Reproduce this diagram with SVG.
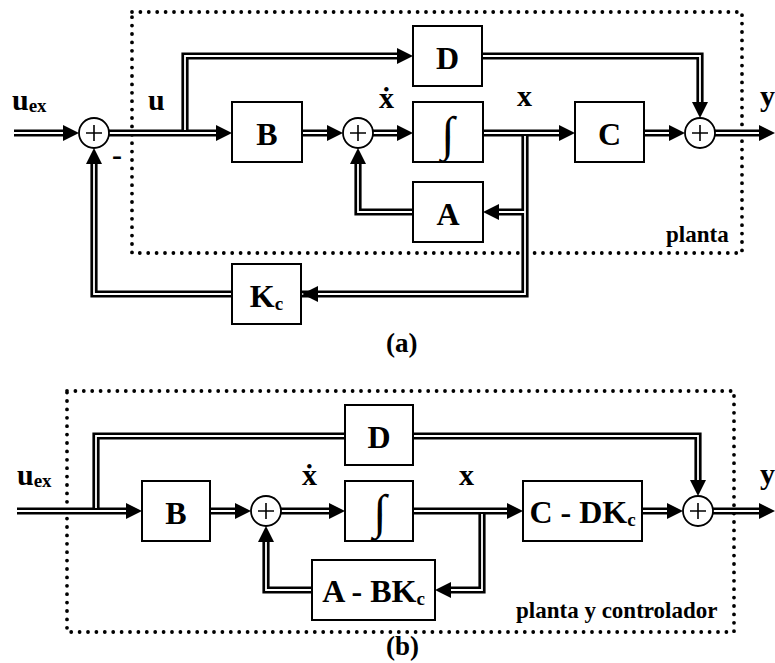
<svg xmlns="http://www.w3.org/2000/svg" xmlns:xlink="http://www.w3.org/1999/xlink" width="775" height="663" viewBox="0 0 775 663">
<style>
  text { font-family: "Liberation Serif", "Times New Roman", serif; font-weight: bold; fill: #000; }
  .lbl { font-size: 30px; }
  .sub { font-size: 19px; }
  .box { fill: #fff; stroke: #000; stroke-width: 2; }
  .bl { font-size: 32px; text-anchor: middle; }
  .sum { fill: #fff; stroke: #000; stroke-width: 1.8; }
  .plus { stroke: #000; stroke-width: 1.6; fill: none; }
  .outer { fill: none; stroke: #000; stroke-width: 7.2; stroke-linejoin: miter; stroke-linecap: butt; }
  .inner { fill: none; stroke: #fff; stroke-width: 1.8; stroke-linejoin: miter; stroke-linecap: butt; }
  .dot { fill: none; stroke: #000; stroke-width: 3.8; stroke-linecap: round; stroke-dasharray: 0 8.4; }
  .small { font-size: 23px; }
  .integ { font-size: 48px; text-anchor: middle; font-weight: bold; }
</style>
<defs>
  <polygon id="ah" points="0,0 -16,-8 -16,8" fill="#000"/>
  <g id="plus"><path class="plus" d="M-8,0 H8 M0,-8 V8"/></g>
</defs>

<!-- boundaries -->
<g id="planta-a">
  <path class="dot" d="M132,12 H742 V253 H132 Z"/>
  <text class="small" x="666" y="242">planta</text>
</g>
<g id="planta-b">
  <path class="dot" d="M67,391 H734 V632 H67 Z"/>
  <text class="small" x="516" y="618">planta y controlador</text>
</g>

<g id="connectors">
  <g id="conn-a">
    <path class="outer" d="M14,133 H64 M109,133 H217 M302,133 H328 M373,133 H398 M483,133 H560 M644,133 H670 M715,133 H760 M185,133 V56 H398 M482,56 H700 V103 M413,212 H358 V164 M525,133 V294 H302 M525,212 H499 M232,294 H94 V164"/>
    <path class="inner" d="M14,133 H64 M109,133 H217 M302,133 H328 M373,133 H398 M483,133 H560 M644,133 H670 M715,133 H760 M185,130 V56 H398 M482,56 H700 V103 M413,212 H358 V164 M525,136 V294 H302 M525,212 H499 M232,294 H94 V164"/>
    <use xlink:href="#ah" transform="translate(79,133)"/>
    <use xlink:href="#ah" transform="translate(232,133)"/>
    <use xlink:href="#ah" transform="translate(343,133)"/>
    <use xlink:href="#ah" transform="translate(413,133)"/>
    <use xlink:href="#ah" transform="translate(575,133)"/>
    <use xlink:href="#ah" transform="translate(685,133)"/>
    <use xlink:href="#ah" transform="translate(775,133)"/>
    <use xlink:href="#ah" transform="translate(413,56)"/>
    <use xlink:href="#ah" transform="translate(700,118) rotate(90)"/>
    <use xlink:href="#ah" transform="translate(94,148) rotate(-90)"/>
    <use xlink:href="#ah" transform="translate(358,148) rotate(-90)"/>
    <use xlink:href="#ah" transform="translate(483,212) rotate(180)"/>
    <use xlink:href="#ah" transform="translate(302,294) rotate(180)"/>
  </g>
  <g id="conn-b">
    <path class="outer" d="M17,511 H127 M96,511 V436 H698 V481 M210,511 H236 M281,511 H330 M413,511 H508 M642,511 H668 M713,511 H760 M482,511 V590 H450 M312,590 H266 V542"/>
    <path class="inner" d="M17,511 H127 M96,508 V436 H698 V481 M210,511 H236 M281,511 H330 M413,511 H508 M642,511 H668 M713,511 H760 M482,514 V590 H450 M312,590 H266 V542"/>
    <use xlink:href="#ah" transform="translate(142,511)"/>
    <use xlink:href="#ah" transform="translate(251,511)"/>
    <use xlink:href="#ah" transform="translate(345,511)"/>
    <use xlink:href="#ah" transform="translate(523,511)"/>
    <use xlink:href="#ah" transform="translate(683,511)"/>
    <use xlink:href="#ah" transform="translate(775,511)"/>
    <use xlink:href="#ah" transform="translate(698,496) rotate(90)"/>
    <use xlink:href="#ah" transform="translate(266,526) rotate(-90)"/>
    <use xlink:href="#ah" transform="translate(435,590) rotate(180)"/>
  </g>
</g>

<!-- diagram (a) nodes -->
<g id="a-sum1"><circle class="sum" cx="94" cy="133" r="15"/><use xlink:href="#plus" transform="translate(94,133)"/></g>
<g id="a-B"><rect class="box" x="232" y="102" width="70" height="60"/><text class="bl" x="267" y="145">B</text></g>
<g id="a-sum2"><circle class="sum" cx="358" cy="133" r="15"/><use xlink:href="#plus" transform="translate(358,133)"/></g>
<g id="a-D"><rect class="box" x="413" y="26" width="69" height="60"/><text class="bl" x="447.5" y="69">D</text></g>
<g id="a-int"><rect class="box" x="413" y="102" width="70" height="60"/><text class="integ" x="448" y="150">∫</text></g>
<g id="a-A"><rect class="box" x="413" y="182" width="70" height="60"/><text class="bl" x="448" y="225">A</text></g>
<g id="a-C"><rect class="box" x="575" y="102" width="69" height="60"/><text class="bl" x="609.5" y="145">C</text></g>
<g id="a-sum3"><circle class="sum" cx="700" cy="133" r="15"/><use xlink:href="#plus" transform="translate(700,133)"/></g>
<g id="a-Kc"><rect class="box" x="232" y="264" width="69" height="60"/><text class="bl" x="266.5" y="307">K<tspan class="sub" dy="3">c</tspan></text></g>

<g id="a-labels">
  <text class="lbl" x="12" y="110">u<tspan class="sub" dy="2">ex</tspan></text>
  <text class="lbl" x="148" y="110">u</text>
  <text class="lbl" x="112" y="165">-</text>
  <text class="lbl" x="379" y="108">ẋ</text>
  <text class="lbl" x="517" y="106">x</text>
  <text class="lbl" x="760" y="106">y</text>
  <text class="lbl" x="386" y="352" style="font-size:27px">(a)</text>
</g>

<!-- diagram (b) nodes -->
<g id="b-B"><rect class="box" x="142" y="481" width="68" height="60"/><text class="bl" x="176" y="524">B</text></g>
<g id="b-sum2"><circle class="sum" cx="266" cy="511" r="15"/><use xlink:href="#plus" transform="translate(266,511)"/></g>
<g id="b-D"><rect class="box" x="345" y="405" width="68" height="60"/><text class="bl" x="379" y="448">D</text></g>
<g id="b-int"><rect class="box" x="345" y="481" width="68" height="60"/><text class="integ" x="380" y="528">∫</text></g>
<g id="b-ABK"><rect class="box" x="312" y="560" width="123" height="60"/><text class="bl" x="373.5" y="602">A - BK<tspan class="sub" dy="3">c</tspan></text></g>
<g id="b-CDK"><rect class="box" x="523" y="481" width="119" height="60"/><text class="bl" x="582.5" y="523">C - DK<tspan class="sub" dy="3">c</tspan></text></g>
<g id="b-sum3"><circle class="sum" cx="698" cy="511" r="15"/><use xlink:href="#plus" transform="translate(698,511)"/></g>

<g id="b-labels">
  <text class="lbl" x="17" y="485">u<tspan class="sub" dy="2">ex</tspan></text>
  <text class="lbl" x="302" y="485">ẋ</text>
  <text class="lbl" x="459" y="485">x</text>
  <text class="lbl" x="760" y="484">y</text>
  <text class="lbl" x="386" y="655" style="font-size:27px">(b)</text>
</g>
</svg>
